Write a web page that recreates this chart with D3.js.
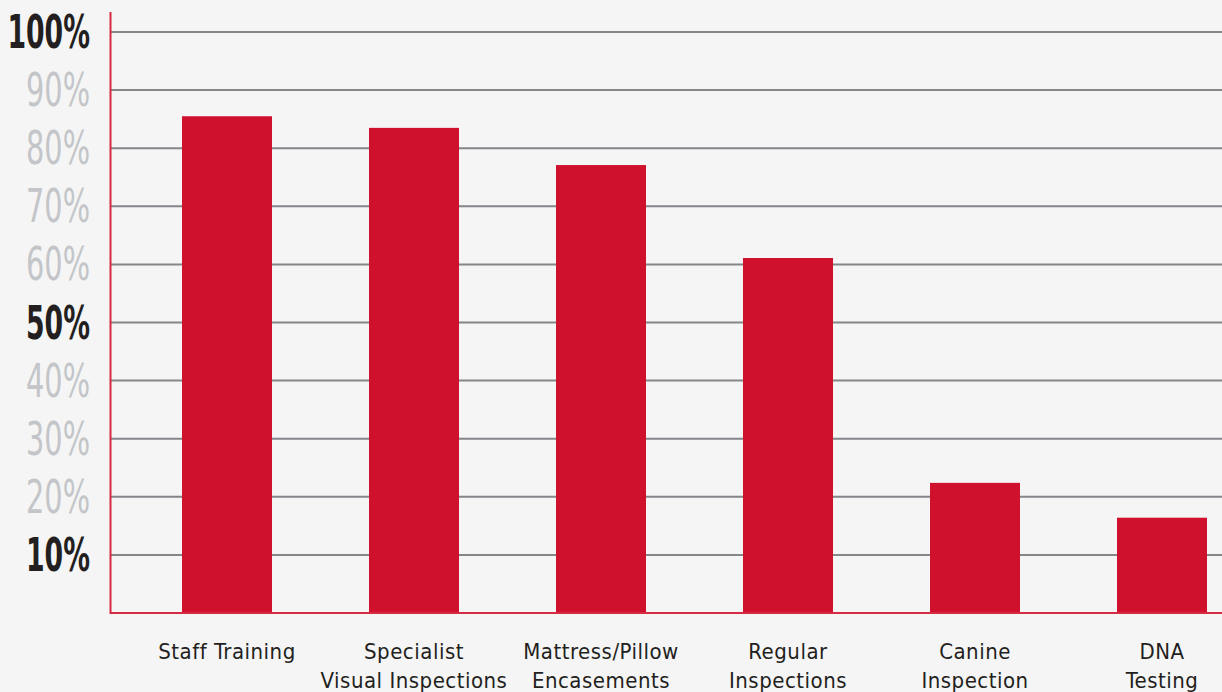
<!DOCTYPE html>
<html>
<head>
<meta charset="utf-8">
<script src="https://cdn.jsdelivr.net/npm/d3@7"></script>
<style>
  html, body { margin: 0; padding: 0; background: #f5f5f5; }
  svg { display: block; }
</style>
</head>
<body>
<svg width="1222" height="692"></svg>
<script>
// categories (each entry is lines of the label)
var categories = [
    ["Staff Training"],
    ["Specialist", "Visual Inspections"],
    ["Mattress/Pillow", "Encasements"],
    ["Regular", "Inspections"],
    ["Canine", "Inspection"],
    ["DNA", "Testing"]
];
var values = [85.5, 83.5, 77.1, 61.1, 22.4, 16.4];
var ticks = [10, 20, 30, 40, 50, 60, 70, 80, 90, 100];
var darkTicks = [10, 50, 100];

var svg = d3.select("svg");
var red = "#cf112d";
var font = "'DejaVu Sans Condensed', 'Liberation Sans Narrow', sans-serif";

var y = d3.scaleLinear().domain([0, 100]).range([613, 32]);
var x = d3.scaleBand()
    .domain(d3.range(categories.length))
    .range([133.5, 1255.5])
    .paddingInner(0.5187)
    .paddingOuter(0.2594);

// grid
svg.append("g").selectAll("line").data(ticks)
  .enter().append("line")
    .attr("x1", 111).attr("x2", 1222)
    .attr("y1", function (d) { return y(d); })
    .attr("y2", function (d) { return y(d); })
    .attr("stroke", "#85858a")
    .attr("stroke-width", 2);

// bars
svg.append("g").selectAll("rect").data(values)
  .enter().append("rect")
    .attr("x", function (d, i) { return x(i); })
    .attr("width", x.bandwidth())
    .attr("y", function (d) { return y(d); })
    .attr("height", function (d) { return y(0) - y(d); })
    .attr("fill", red);

// axis lines
svg.append("line").attr("x1", 110.5).attr("x2", 110.5).attr("y1", 12).attr("y2", 614)
    .attr("stroke", "#d42a42").attr("stroke-width", 2);
svg.append("line").attr("x1", 110).attr("x2", 1222).attr("y1", 613).attr("y2", 613)
    .attr("stroke", "#d42a42").attr("stroke-width", 2);

// y labels - squeezed horizontally to look like a condensed face
function isDark(d) { return darkTicks.indexOf(d) >= 0; }
var yl = svg.append("g").selectAll("text").data(ticks)
  .enter().append("text")
    .attr("text-anchor", "end")
    .style("font-family", font)
    .style("font-size", "46px")
    .style("font-weight", function (d) { return isDark(d) ? "bold" : "normal"; })
    .attr("fill", function (d) { return isDark(d) ? "#231f20" : "#c3c5c8"; })
    .text(function (d) { return d + "%"; });

var wNormal = yl.filter(function (d) { return d == 90; }).node().getComputedTextLength();
var wBold = yl.filter(function (d) { return d == 50; }).node().getComputedTextLength();
yl.attr("transform", function (d) {
    var s = 64 / (isDark(d) ? wBold : wNormal);
    return "translate(90," + (y(d) + 16) + ") scale(" + s + ",1)";
});

// x labels
var xl = svg.append("g").selectAll("text").data(categories)
  .enter().append("text")
    .attr("x", function (d, i) { return x(i) + x.bandwidth() / 2; })
    .attr("y", 659)
    .attr("text-anchor", "middle")
    .style("font-family", font)
    .style("font-size", "22px")
    .style("letter-spacing", "0.5px")
    .attr("fill", "#231f20");
xl.selectAll("tspan").data(function (d) { return d; })
  .enter().append("tspan")
    .attr("x", function () { return d3.select(this.parentNode).attr("x"); })
    .attr("dy", function (d, i) { return i ? 29 : 0; })
    .text(function (d) { return d; });
</script>
</body>
</html>
